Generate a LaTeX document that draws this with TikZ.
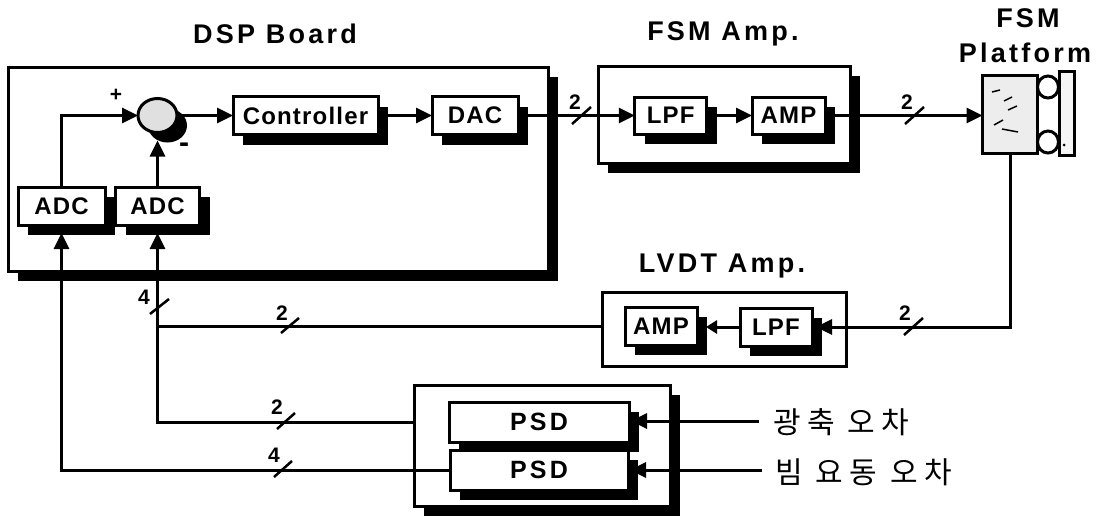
\documentclass[tikz,border=0pt]{standalone}
\usepackage{fontspec}
\usepackage{tikz,xcolor}
\usetikzlibrary{calc,positioning,shapes.geometric,shadows,arrows.meta}
\newfontfamily\blockfont[LetterSpace=5]{Liberation Sans}
\newfontfamily\psdfont[LetterSpace=13]{Liberation Sans}
\newfontfamily\titlefont[LetterSpace=12]{Liberation Sans}
\newfontfamily\errfont[LetterSpace=21]{Noto Sans CJK KR}
\tikzset{
    hardshadow/.style={drop shadow={shadow xshift=#1,shadow yshift=-#1,fill=black,opacity=1}},
    groupbox/.style={draw,line width=3pt,fill=white,inner sep=0pt,outer sep=0pt,hardshadow=10pt},
    block/.style={draw,line width=3pt,fill=white,inner sep=0pt,outer sep=0pt,hardshadow=10pt,
        font=\blockfont\bfseries\fontsize{24}{26}\selectfont},
    psdblock/.style={block,font=\psdfont\bfseries\fontsize{25}{27}\selectfont},
    title/.style={font=\titlefont\bfseries\fontsize{27}{29}\selectfont},
    count/.style={font=\blockfont\bfseries\fontsize{21}{23}\selectfont},
    errtext/.style={anchor=west,inner sep=0pt,font=\errfont\fontsize{30}{33}\selectfont},
    flow/.style={line width=3pt,-{Triangle[length=16pt,width=15pt]}},
    wire/.style={line width=3pt},
    tick/.style={line width=2.5pt}
}
\begin{document}
\begin{tikzpicture}[x=1pt,y=-1pt]
    \useasboundingbox (0,0) rectangle (1096,517);

        % titles
        \node[title] (dsptitle) at (275,34) {DSP Board};
        \node[title] (fsmtitle) at (723,34) {FSM Amp.};
        \node[title] (plattitlea) at (1028,18) {FSM};
        \node[title] (plattitleb) at (1025,53) {Platform};
        \node[title] (lvdttitle) at (722,266) {LVDT Amp.};

        % group boxes
        \node[groupbox,minimum width=540pt,minimum height=204pt] (dspbox) at (278,169) {};
        \node[groupbox,minimum width=252pt,minimum height=97pt] (fsmbox) at (724,114.5) {};
        \node[draw,line width=3pt,fill=white,inner sep=0pt,outer sep=0pt,minimum width=244pt,minimum height=74pt] (lvdtbox) at (724,329) {};
        \node[groupbox,minimum width=256pt,minimum height=121pt] (psdbox) at (542,445.5) {};

        % DSP board
        \node[ellipse,draw,line width=3pt,fill=black!12,inner sep=0pt,outer sep=0pt,hardshadow=10pt,minimum width=39pt,minimum height=34pt] (sum) at (157.5,115.5) {};
        \node[block,minimum width=145pt,minimum height=38pt] (ctrl) at (305.5,115.5) {Controller};
        \node[block,minimum width=86pt,minimum height=38pt] (dac) at (475,115.5) {DAC};
        \node[block,minimum width=87pt,minimum height=38pt] (adca) at (61.5,206) {ADC};
        \node[block,minimum width=84pt,minimum height=38pt] (adcb) at (157.5,206) {ADC};
        \node[count] (plus) at (116,95) {+};
        \node[count,font=\blockfont\bfseries\fontsize{30}{32}\selectfont] (minus) at (184,148) {-};

        % FSM amp
        \node[block,minimum width=72pt,minimum height=37pt] (lpfa) at (670.75,115.5) {LPF};
        \node[block,minimum width=73pt,minimum height=37pt] (ampa) at (788.5,115.5) {AMP};

        % platform
        \node[draw,line width=3pt,fill=black!7,inner sep=0pt,outer sep=0pt,minimum width=55pt,minimum height=78pt] (plat) at (1010,114) {};
        \node[ellipse,draw,line width=3pt,fill=white,inner sep=0pt,outer sep=0pt,minimum width=21pt,minimum height=22pt] (rolla) at (1048,87) {};
        \node[ellipse,draw,line width=3pt,fill=white,inner sep=0pt,outer sep=0pt,minimum width=21pt,minimum height=22pt] (rollb) at (1048,142) {};
        \node[draw,line width=3pt,fill=black!4,inner sep=0pt,outer sep=0pt,minimum width=15pt,minimum height=84pt] (plate) at (1066.5,113) {};
        \fill (1064,145) circle (1.5pt);
        \draw[line width=1.5pt] (992,92) -- (1000,90);
        \draw[line width=1.5pt] (1004,101) -- (1012,97);
        \draw[line width=1.5pt] (1008,110) -- (1017,106);
        \draw[line width=1.5pt] (994,125) -- (1003,120);
        \draw[line width=1.5pt] (1002,129) -- (1018,132);

        % LVDT amp
        \node[block,minimum width=72pt,minimum height=38pt] (ampb) at (661,326) {AMP};
        \node[block,minimum width=72pt,minimum height=38pt] (lpfb) at (776,327) {LPF};

        % PSD
        \node[psdblock,minimum width=180pt,minimum height=40pt] (psda) at (539,422) {PSD};
        \node[psdblock,minimum width=178pt,minimum height=40pt] (psdb) at (539,470) {PSD};
        \node[errtext] (erra) at (773,422) {광축 오차};
        \node[errtext] (errb) at (775,472) {빔 요동 오차};
        \coordinate (enda) at (759,421);
        \coordinate (endb) at (762,470);

        % connectors
        \draw[flow] (adca.north) |- (sum.west);
        \draw[flow,shorten >=8pt] (adcb.north) -- (sum.south);
        \draw[flow] (sum.east) -- (ctrl.west);
        \draw[flow] (ctrl.east) -- (dac.west);
        \draw[flow] (dac.east) -- (lpfa.west);
        \draw[flow] (lpfa.east) -- (ampa.west);
        \draw[flow] (ampa.east) -- (ampa.east -| plat.west);
        \draw[flow,shorten >=4pt] (plat.south) |- (lpfb.east);
        \draw[line width=3pt,-{Triangle[length=11pt,width=13pt]},shorten >=9pt] (lpfb.west) -- (lpfb.west -| ampb.east);
        \draw[wire] (ampb -| lvdtbox.west) -- (ampb -| adcb.south);
        \draw[flow,shorten >=8pt] (psda -| psdbox.west) -| (adcb.south);
        \draw[flow,shorten >=8pt] (psdb.west) -| (adca.south);
        \draw[flow,shorten >=2pt] (enda) -- (enda -| psda.east);
        \draw[flow,shorten >=2pt] (endb) -- (endb -| psdb.east);

        % bus ticks
        \draw[tick] (572,124) -- (591,107);
        \node[count] (busa) at (575,102) {2};
        \draw[tick] (905,124) -- (924,107);
        \node[count] (busb) at (907,102) {2};
        \draw[tick] (904,335) -- (923,318);
        \node[count] (busc) at (905,313) {2};
        \draw[tick] (281,333) -- (299,318);
        \node[count] (busd) at (282,313) {2};
        \draw[tick] (150,314) -- (169,299);
        \node[count] (buse) at (144,297) {4};
        \draw[tick] (277,429) -- (295,413);
        \node[count] (busf) at (277,407) {2};
        \draw[tick] (274,477) -- (292,461);
        \node[count] (busg) at (274,455) {4};
    \end{tikzpicture}
\end{document}
